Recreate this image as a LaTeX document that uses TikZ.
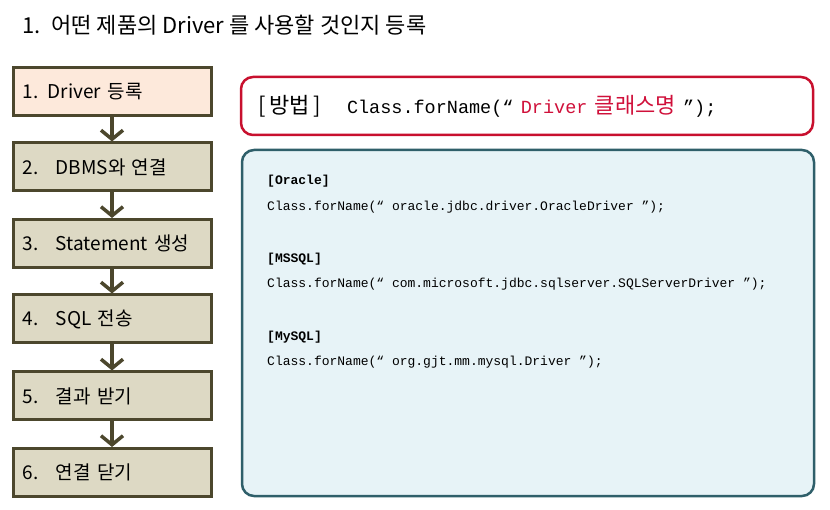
\documentclass[tikz,border=0pt]{standalone}
\usepackage{fontspec}
\setmainfont{Noto Sans CJK KR}
\setmonofont{Liberation Mono}
\newfontfamily\krfont{Noto Sans CJK KR}
\usetikzlibrary{arrows.meta}
\definecolor{stageline}{HTML}{4C472D}
\definecolor{firstfill}{HTML}{FDE9DB}
\definecolor{stagefill}{HTML}{DDD9C4}
\definecolor{methodred}{HTML}{C8102E}
\definecolor{namered}{HTML}{D0103A}
\definecolor{sampleline}{HTML}{2F5F6A}
\definecolor{samplefill}{HTML}{E7F3F7}

\begin{document}
\begin{tikzpicture}[x=1pt,y=-1pt,
    stage/.style={draw=stageline,line width=3pt,fill=stagefill,minimum height=48pt,
        text width=178pt,inner xsep=10pt,inner ysep=0pt,align=left,
        font=\fontsize{19}{19}\selectfont},
    flow/.style={draw=stageline,line width=3.5pt,-{Straight Barb[length=9pt,width=22pt]}},
    codebox/.style={rounded corners=12pt,line width=2.5pt,inner ysep=0pt,align=left},
    code/.style={anchor=west,inner sep=0pt,font=\ttfamily\fontsize{13}{13}\selectfont}]
    \useasboundingbox (0,0) rectangle (830,510);
    \node[anchor=west,inner sep=0pt,font=\fontsize{22}{22}\selectfont] (title) at (22,25)
        {1.\hspace{11pt}어떤 제품의 Driver 를 사용할 것인지 등록};
    % steps
    \node[stage,fill=firstfill] (s1) at (112,91.5) {1.\hspace{9pt}Driver 등록};
    \node[stage] (s2) at (112,167) {2.\hspace{17pt}DBMS와 연결};
    \node[stage] (s3) at (112,243.5) {3.\hspace{17pt}Statement 생성};
    \node[stage] (s4) at (112,319) {4.\hspace{17pt}SQL 전송};
    \node[stage] (s5) at (112,396) {5.\hspace{17pt}결과 받기};
    \node[stage] (s6) at (112,472.5) {6.\hspace{17pt}연결 닫기};
    \foreach \a/\b in {s1/s2,s2/s3,s3/s4,s4/s5,s5/s6}
        \draw[flow] (\a) -- (\b);
    % method
    \node[codebox,draw=methodred,fill=white,minimum height=58pt,text width=538pt,
        inner xsep=17pt,font=\fontsize{22}{22}\selectfont] (method) at (527,106)
        {\makebox[89pt][l]{[\,방법\,]}{\ttfamily\fontsize{18.5}{18.5}\selectfont
        Class.forName(“ \textcolor{namered}{Driver {\krfont\fontsize{22}{22}\selectfont 클래스명}} ”);}};
    % samples
    \node[codebox,draw=sampleline,fill=samplefill,minimum width=572pt,minimum height=346pt]
        (samples) at (528,323) {};
    \node[code,font=\ttfamily\bfseries\fontsize{13}{13}\selectfont] (oracle) at (267,181) {[Oracle]};
    \node[code] (oraclecode) at (267,207) {Class.forName(“ oracle.jdbc.driver.OracleDriver ”);};
    \node[code,font=\ttfamily\bfseries\fontsize{13}{13}\selectfont] (mssql) at (267,259) {[MSSQL]};
    \node[code] (mssqlcode) at (267,284) {Class.forName(“ com.microsoft.jdbc.sqlserver.SQLServerDriver ”);};
    \node[code,font=\ttfamily\bfseries\fontsize{13}{13}\selectfont] (mysql) at (267,337) {[MySQL]};
    \node[code] (mysqlcode) at (267,362) {Class.forName(“ org.gjt.mm.mysql.Driver ”);};
\end{tikzpicture}
\end{document}
